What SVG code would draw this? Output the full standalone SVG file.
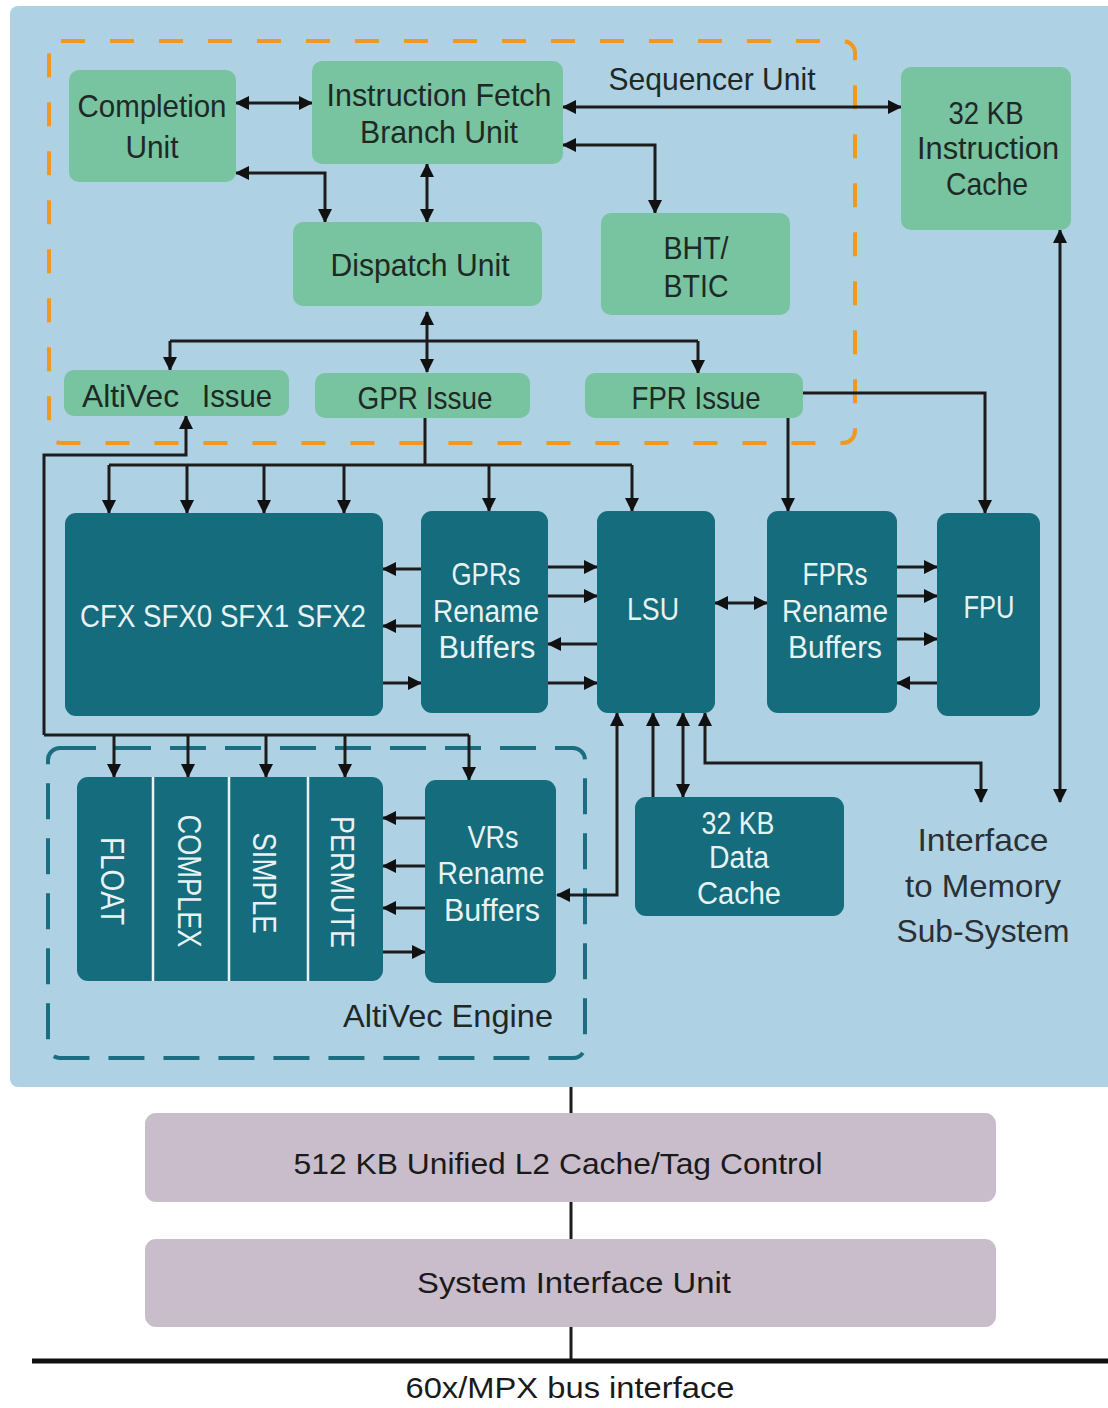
<svg xmlns="http://www.w3.org/2000/svg" width="1108" height="1408" viewBox="0 0 1108 1408">
<defs>
<style>
.panel{fill:#afd1e4}
.g{fill:#78c3a0}
.t{fill:#146c7c}
.m{fill:#c9bdcc}
.dk{font-family:"Liberation Sans",Arial,sans-serif;font-size:32px;fill:#1e2926;text-anchor:middle}
.wt{font-family:"Liberation Sans",Arial,sans-serif;font-size:31px;fill:#e8f2f2;text-anchor:middle}
.rt{font-family:"Liberation Sans",Arial,sans-serif;font-size:34px;fill:#e8f2f2;text-anchor:middle}
.bt{font-family:"Liberation Sans",Arial,sans-serif;font-size:30px;fill:#1a1a1a;text-anchor:middle}
.c{fill:none;stroke:#1c1c1c;stroke-width:3}
.a{marker-end:url(#ah)}
.aa{marker-start:url(#ah);marker-end:url(#ah)}
</style>
<marker id="ah" viewBox="0 0 14 14" refX="13" refY="7" markerWidth="14" markerHeight="14" markerUnits="userSpaceOnUse" orient="auto-start-reverse"><path d="M0,0 L14,7 L0,14 z" fill="#111"/></marker>
</defs>
<rect width="1108" height="1408" fill="#ffffff"/>
<rect class="panel" x="10" y="6" width="1110" height="1081" rx="8"/>
<rect x="49" y="41" width="806" height="402" rx="12" fill="none" stroke="#f2981f" stroke-width="4" stroke-dasharray="24 25"/>
<rect x="48" y="748" width="537" height="310" rx="12" fill="none" stroke="#1b6e80" stroke-width="4" stroke-dasharray="36 19"/>
<text class="dk" x="712" y="90" textLength="207" lengthAdjust="spacingAndGlyphs">Sequencer Unit</text>
<text class="dk" x="448" y="1027" textLength="210" lengthAdjust="spacingAndGlyphs">AltiVec Engine</text>
<g id="interface-label">
<text class="dk" x="983" y="851" textLength="131" lengthAdjust="spacingAndGlyphs" style="fill:#2a3033">Interface</text>
<text class="dk" x="983" y="897" textLength="156" lengthAdjust="spacingAndGlyphs" style="fill:#2a3033">to Memory</text>
<text class="dk" x="983" y="942" textLength="173" lengthAdjust="spacingAndGlyphs" style="fill:#2a3033">Sub-System</text>
</g>

<g id="connectors">
<path class="c aa" d="M236,103 H312"/>
<path class="c aa" d="M236,173 H325 V222"/>
<path class="c aa" d="M427,164 V222"/>
<path class="c aa" d="M563,107 H901"/>
<path class="c aa" d="M563,145 H655 V213"/>
<path class="c aa" d="M427,312 V372"/>
<path class="c" d="M170,341 H698"/>
<path class="c a" d="M170,341 V370"/>
<path class="c a" d="M698,341 V373"/>
<path class="c" d="M425,418 V465 M109,465 H632"/>
<path class="c a" d="M109,465 V513"/>
<path class="c a" d="M187,465 V513"/>
<path class="c a" d="M264,465 V513"/>
<path class="c a" d="M344,465 V513"/>
<path class="c a" d="M489,465 V511"/>
<path class="c a" d="M632,465 V511"/>
<path class="c a" d="M44,735 V455 H186 V416"/>
<path class="c" d="M44,735 H469"/>
<path class="c a" d="M114,735 V777"/>
<path class="c a" d="M188,735 V777"/>
<path class="c a" d="M266,735 V777"/>
<path class="c a" d="M345,735 V777"/>
<path class="c a" d="M469,735 V780"/>
<path class="c a" d="M421,569 H383"/>
<path class="c a" d="M421,626 H383"/>
<path class="c a" d="M383,683 H421"/>
<path class="c a" d="M548,567 H597"/>
<path class="c a" d="M548,596 H597"/>
<path class="c a" d="M597,644 H548"/>
<path class="c a" d="M548,683 H597"/>
<path class="c aa" d="M715,603 H767"/>
<path class="c a" d="M897,567 H937"/>
<path class="c a" d="M897,596 H937"/>
<path class="c a" d="M897,639 H937"/>
<path class="c a" d="M937,683 H897"/>
<path class="c a" d="M788,418 V511"/>
<path class="c a" d="M803,393 H985 V513"/>
<path class="c aa" d="M1060,230 V802"/>
<path class="c aa" d="M617,713 V895 H557"/>
<path class="c a" d="M653,797 V713"/>
<path class="c aa" d="M683,713 V797"/>
<path class="c aa" d="M705,713 V763 H981 V802"/>
<path class="c a" d="M425,818 H383"/>
<path class="c a" d="M425,866 H383"/>
<path class="c a" d="M425,908 H383"/>
<path class="c a" d="M383,952 H425"/>
<path class="c" d="M571,1087 V1113 M571,1202 V1239 M571,1327 V1361"/>
<path d="M32,1361 H1108" stroke="#111" stroke-width="5" fill="none"/>
</g>

<g id="completion-unit">
<rect class="g" x="69" y="70" width="167" height="112" rx="10"/>
<text class="dk" x="152" y="117" textLength="149" lengthAdjust="spacingAndGlyphs">Completion</text>
<text class="dk" x="152" y="158" textLength="53" lengthAdjust="spacingAndGlyphs">Unit</text>
</g>
<g id="instruction-fetch">
<rect class="g" x="312" y="61" width="251" height="103" rx="10"/>
<text class="dk" x="439" y="106" textLength="225" lengthAdjust="spacingAndGlyphs">Instruction Fetch</text>
<text class="dk" x="439" y="143" textLength="158" lengthAdjust="spacingAndGlyphs">Branch Unit</text>
</g>
<g id="dispatch-unit">
<rect class="g" x="293" y="222" width="249" height="84" rx="10"/>
<text class="dk" x="420" y="276" textLength="179" lengthAdjust="spacingAndGlyphs">Dispatch Unit</text>
</g>
<g id="bht-btic">
<rect class="g" x="601" y="213" width="189" height="102" rx="10"/>
<text class="dk" x="696" y="259" textLength="65" lengthAdjust="spacingAndGlyphs">BHT/</text>
<text class="dk" x="696" y="297" textLength="65" lengthAdjust="spacingAndGlyphs">BTIC</text>
</g>
<g id="instruction-cache">
<rect class="g" x="901" y="67" width="170" height="163" rx="10"/>
<text class="dk" x="986" y="124" textLength="75" lengthAdjust="spacingAndGlyphs">32 KB</text>
<text class="dk" x="988" y="159" textLength="142" lengthAdjust="spacingAndGlyphs">Instruction</text>
<text class="dk" x="987" y="195" textLength="82" lengthAdjust="spacingAndGlyphs">Cache</text>
</g>
<g id="altivec-issue">
<rect class="g" x="64" y="370" width="225" height="46" rx="10"/>
<text class="dk" y="407" style="text-anchor:start"><tspan x="82" textLength="97" lengthAdjust="spacingAndGlyphs">AltiVec</tspan><tspan x="202" textLength="70" lengthAdjust="spacingAndGlyphs">Issue</tspan></text>
</g>
<g id="gpr-issue">
<rect class="g" x="315" y="373" width="215" height="45" rx="10"/>
<text class="dk" x="425" y="409" textLength="135" lengthAdjust="spacingAndGlyphs">GPR Issue</text>
</g>
<g id="fpr-issue">
<rect class="g" x="585" y="373" width="218" height="45" rx="10"/>
<text class="dk" x="696" y="409" textLength="129" lengthAdjust="spacingAndGlyphs">FPR Issue</text>
</g>

<g id="integer-units">
<rect class="t" x="65" y="513" width="318" height="203" rx="11"/>
<text class="wt" x="223" y="627" textLength="286" lengthAdjust="spacingAndGlyphs">CFX  SFX0 SFX1 SFX2</text>
</g>
<g id="gprs">
<rect class="t" x="421" y="511" width="127" height="202" rx="11"/>
<text class="wt" x="486" y="585" textLength="69" lengthAdjust="spacingAndGlyphs">GPRs</text>
<text class="wt" x="486" y="622" textLength="106" lengthAdjust="spacingAndGlyphs">Rename</text>
<text class="wt" x="487" y="658" textLength="97" lengthAdjust="spacingAndGlyphs">Buffers</text>
</g>
<g id="lsu">
<rect class="t" x="597" y="511" width="118" height="202" rx="11"/>
<text class="wt" x="653" y="620" textLength="52" lengthAdjust="spacingAndGlyphs">LSU</text>
</g>
<g id="fprs">
<rect class="t" x="767" y="511" width="130" height="202" rx="11"/>
<text class="wt" x="835" y="585" textLength="65" lengthAdjust="spacingAndGlyphs">FPRs</text>
<text class="wt" x="835" y="622" textLength="106" lengthAdjust="spacingAndGlyphs">Rename</text>
<text class="wt" x="835" y="658" textLength="94" lengthAdjust="spacingAndGlyphs">Buffers</text>
</g>
<g id="fpu">
<rect class="t" x="937" y="513" width="103" height="203" rx="11"/>
<text class="wt" x="989" y="618" textLength="51" lengthAdjust="spacingAndGlyphs">FPU</text>
</g>
<g id="data-cache">
<rect class="t" x="635" y="797" width="209" height="119" rx="11"/>
<text class="wt" x="738" y="834" textLength="73" lengthAdjust="spacingAndGlyphs">32 KB</text>
<text class="wt" x="739" y="868" textLength="60" lengthAdjust="spacingAndGlyphs">Data</text>
<text class="wt" x="739" y="904" textLength="84" lengthAdjust="spacingAndGlyphs">Cache</text>
</g>
<g id="altivec-units">
<rect class="t" x="77" y="777" width="306" height="204" rx="11"/>
<path d="M153,777 V981 M229,777 V981 M308,777 V981" stroke="#e8f2f2" stroke-width="2.5"/>
<text class="rt" transform="translate(113,881) rotate(90)" x="0" y="12" textLength="88" lengthAdjust="spacingAndGlyphs">FLOAT</text>
<text class="rt" transform="translate(190,881) rotate(90)" x="0" y="12" textLength="133" lengthAdjust="spacingAndGlyphs">COMPLEX</text>
<text class="rt" transform="translate(265,883) rotate(90)" x="0" y="12" textLength="101" lengthAdjust="spacingAndGlyphs">SIMPLE</text>
<text class="rt" transform="translate(343,882) rotate(90)" x="0" y="12" textLength="132" lengthAdjust="spacingAndGlyphs">PERMUTE</text>
</g>
<g id="vrs">
<rect class="t" x="425" y="780" width="131" height="203" rx="11"/>
<text class="wt" x="493" y="848" textLength="51" lengthAdjust="spacingAndGlyphs">VRs</text>
<text class="wt" x="491" y="884" textLength="107" lengthAdjust="spacingAndGlyphs">Rename</text>
<text class="wt" x="492" y="921" textLength="96" lengthAdjust="spacingAndGlyphs">Buffers</text>
</g>

<g id="l2-cache">
<rect class="m" x="145" y="1113" width="851" height="89" rx="11"/>
<text class="bt" x="558" y="1174" textLength="529" lengthAdjust="spacingAndGlyphs">512 KB Unified L2 Cache/Tag Control</text>
</g>
<g id="system-interface">
<rect class="m" x="145" y="1239" width="851" height="88" rx="11"/>
<text class="bt" x="574" y="1293" textLength="314" lengthAdjust="spacingAndGlyphs">System Interface Unit</text>
</g>
<text class="bt" x="570" y="1398" textLength="329" lengthAdjust="spacingAndGlyphs">60x/MPX bus interface</text>
</svg>
